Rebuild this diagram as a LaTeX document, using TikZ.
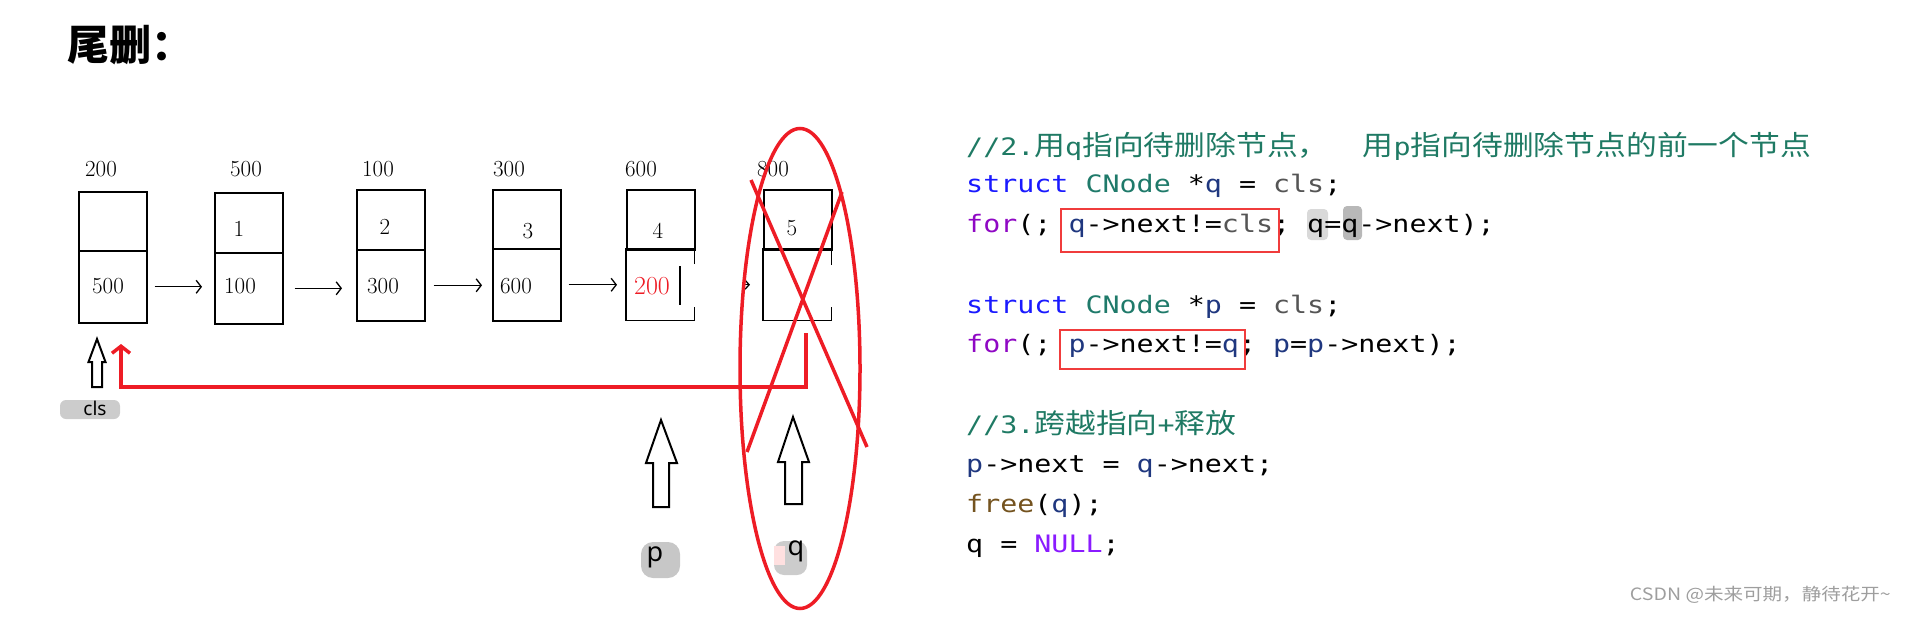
\documentclass[tikz,border=0pt]{standalone}
\usepackage{fontspec}
\usetikzlibrary{arrows.meta,calc}
\newfontfamily\codefont[FakeStretch=1.18]{DejaVu Sans Mono}
\newfontfamily\codecjk[FakeStretch=1.12]{Noto Sans CJK SC}
\newfontfamily\cjk{Noto Sans CJK SC}
\newfontfamily\wmfont[FakeStretch=1.15]{Noto Sans CJK SC}
\newfontfamily\lblsans{Noto Sans}
\newcommand\cjkc[1]{{\codecjk\fontsize{27.5}{30}\selectfont #1}}
\definecolor{cmt}{HTML}{1F7A64}
\definecolor{kw}{HTML}{1A1AFF}
\definecolor{typ}{HTML}{1F7A6A}
\definecolor{var}{HTML}{1F377F}
\definecolor{prm}{HTML}{555555}
\definecolor{ctl}{HTML}{8F08C4}
\definecolor{fnc}{HTML}{74531F}
\definecolor{mac}{HTML}{8A1BFF}
\definecolor{redl}{HTML}{EE1C25}
\definecolor{redbx}{HTML}{F03C3C}
\tikzset{
  cell/.style={draw, line width=1.6pt, minimum width=68pt, inner sep=0pt, anchor=north west},
  cellnd/.style={minimum width=68pt, inner sep=0pt, anchor=north west},
  cellline/.style={line width=1.6pt},
  num/.style={inner sep=0pt, font=\fontsize{23}{27}\selectfont},
  arr/.style={line width=1.3pt, -{Straight Barb[length=5pt,width=13pt]}},
  redline/.style={draw=redl, line width=3.5pt},
  hollow/.style={draw=black, fill=white, line width=2pt, line join=miter},
  codeline/.style={anchor=base west, inner sep=0pt, font=\codefont\fontsize{24}{28}\selectfont},
  redbox/.style={draw=redbx, line width=2pt}
}
\begin{document}
\begin{tikzpicture}[x=1pt,y=-1pt]
\useasboundingbox (0,0) rectangle (1906,618);
% title
\node[anchor=west, inner sep=0pt, font=\cjk\bfseries\fontsize{42}{46}\selectfont] (title) at (67,45) {尾删：};
% boxes
\node[cell, minimum height=59pt] (t1) at (78,191) {};
\node[cell, minimum height=72pt] (b1) at (78,250) {};
\node[cell, minimum height=60pt] (t2) at (214,192) {};
\node[cell, minimum height=71pt] (b2) at (214,252) {};
\node[cell, minimum height=60pt] (t3) at (356,189) {};
\node[cell, minimum height=71pt] (b3) at (356,249) {};
\node[cell, minimum height=59pt] (t4) at (492,189) {};
\node[cell, minimum height=72pt] (b4) at (492,248) {};
\node[cell, minimum height=60pt] (t5) at (626,189) {};
\node[cellnd, minimum height=71pt] (b5) at (626,249) {};
\node[cell, minimum height=60pt] (t6) at (763,189) {};
\node[cellnd, minimum height=71pt] (b6) at (763,249) {};
\draw[cellline] ($(b5.north east)+(0,15)$) -- (b5.north east) -- (b5.north west) -- (b5.south west) -- (b5.south east) -- ++(0,-13);
\draw[cellline] ($(b6.north east)+(0,16)$) -- (b6.north east) -- (b6.north west) -- (b6.south west) -- (b6.south east) -- ++(0,-13);
% address labels
\node[num] (a1) at (101,169) {200};
\node[num] (a2) at (246,169) {500};
\node[num] (a3) at (378,169) {100};
\node[num] (a4) at (509,169) {300};
\node[num] (a5) at (641,169) {600};
\node[num] (a6) at (773,169) {800};
% cell contents
\node[num] (d1) at (239,229) {1};
\node[num] (d2) at (385,227) {2};
\node[num] (d3) at (528,231) {3};
\node[num] (d4) at (658,231) {4};
\node[num] (d5) at (792,228) {5};
\node[num] (n1) at (108,286) {500};
\node[num] (n2) at (240,286) {100};
\node[num] (n3) at (383,286) {300};
\node[num] (n4) at (516,286) {600};
\node[num, text=redl, font=\fontsize{26}{30}\selectfont] (n5) at (652,286) {200};
\draw[line width=2pt] (680,266) -- (680,305);
% arrows between nodes
\draw[arr, shorten <=7pt, shorten >=12pt] (b1.east) -- (b1.east -| b2.west);
\draw[arr, shorten <=11pt, shorten >=14pt] (b2.east) -- (b2.east -| b3.west);
\draw[arr, shorten <=8pt, shorten >=10pt] (b3.east) -- (b3.east -| b4.west);
\draw[arr, shorten <=7pt, shorten >=9pt] (b4.east) -- (b4.east -| b5.west);
\draw[line width=1.3pt, shorten <=50pt, shorten >=13pt, -{Straight Barb[length=4pt,width=9pt]}] (b5.east) -- (b5.east -| b6.west);
% hollow pointer arrows
\draw[hollow] (97,339) -- (105.5,362) -- (102,362) -- (102,387) -- (92,387) -- (92,362) -- (88.5,362) -- cycle;
\draw[hollow] (661,420) -- (677,463) -- (669,463) -- (669,507) -- (653,507) -- (653,463) -- (646,463) -- cycle;
\draw[hollow] (793,417) -- (809,462) -- (802,462) -- (802,504) -- (785,504) -- (785,462) -- (778,462) -- cycle;
% pointer labels
\fill[black!20, rounded corners=6pt] (60,400) rectangle (120,419);
\node[inner sep=0pt, font=\lblsans\fontsize{19}{22}\selectfont] (cls) at (95,408) {cls};
\fill[black!22, rounded corners=12pt] (641,542) rectangle (680,578);
\node[inner sep=0pt, font=\lblsans\fontsize{27}{30}\selectfont] (p) at (655,557) {p};
\fill[black!20, rounded corners=10pt] (774,541) rectangle (807,575);
\fill[red!12] (774,546) rectangle (785,565);
\node[inner sep=0pt, font=\lblsans\fontsize{27}{30}\selectfont] (q) at (796,551) {q};
% red link back to cls
\coordinate (rs) at (806,333);
\coordinate (re) at (121,344);
\coordinate (rl) at (0,387);
\draw[redline, -{Straight Barb[length=7pt,width=18pt]}] (rs) -- (rs |- rl) -- (re |- rl) -- (re);
% deletion marks
\draw[redline] (800,368.5) ellipse [x radius=60pt, y radius=240pt];
\draw[redline] (751,180) -- (867,447);
\draw[redline] (842,192) -- (747,452);
% code
\node[codeline, text=cmt] (c1) at (966,155) {//2.\cjkc{用}q\cjkc{指向待删除节点，}\ \ \cjkc{用}p\cjkc{指向待删除节点的前一个节点}};
\node[codeline] (c2) at (966,192) {{\color{kw}struct} {\color{typ}CNode} *{\color{var}q} = {\color{prm}cls};};
\fill[black!15, rounded corners=4pt] (1307,209) rectangle (1328,240);
\fill[black!28, rounded corners=4pt] (1343,206) rectangle (1362,240);
\node[codeline] (c3) at (966,232) {{\color{ctl}for}(; {\color{var}q}->next!={\color{prm}cls}; q=q->next);};
\node[codeline] (c4) at (966,313) {{\color{kw}struct} {\color{typ}CNode} *{\color{var}p} = {\color{prm}cls};};
\node[codeline] (c5) at (966,352) {{\color{ctl}for}(; {\color{var}p}->next!={\color{var}q}; {\color{var}p}={\color{var}p}->next);};
\node[codeline, text=cmt] (c6) at (966,433) {//3.\cjkc{跨越指向}+\cjkc{释放}};
\node[codeline] (c7) at (966,472) {{\color{var}p}->next = {\color{var}q}->next;};
\node[codeline] (c8) at (966,512) {{\color{fnc}free}({\color{var}q});};
\node[codeline] (c9) at (966,552) {q = {\color{mac}NULL};};
\draw[redbox] (1061,208.5) rectangle (1279,252);
\draw[redbox] (1060,330) rectangle (1245,368.5);
% watermark
\node[anchor=east, inner sep=0pt, text=black!38, font=\wmfont\fontsize{17}{20}\selectfont] (wm) at (1891,595) {CSDN @未来可期，静待花开\textasciitilde};
\end{tikzpicture}
\end{document}
